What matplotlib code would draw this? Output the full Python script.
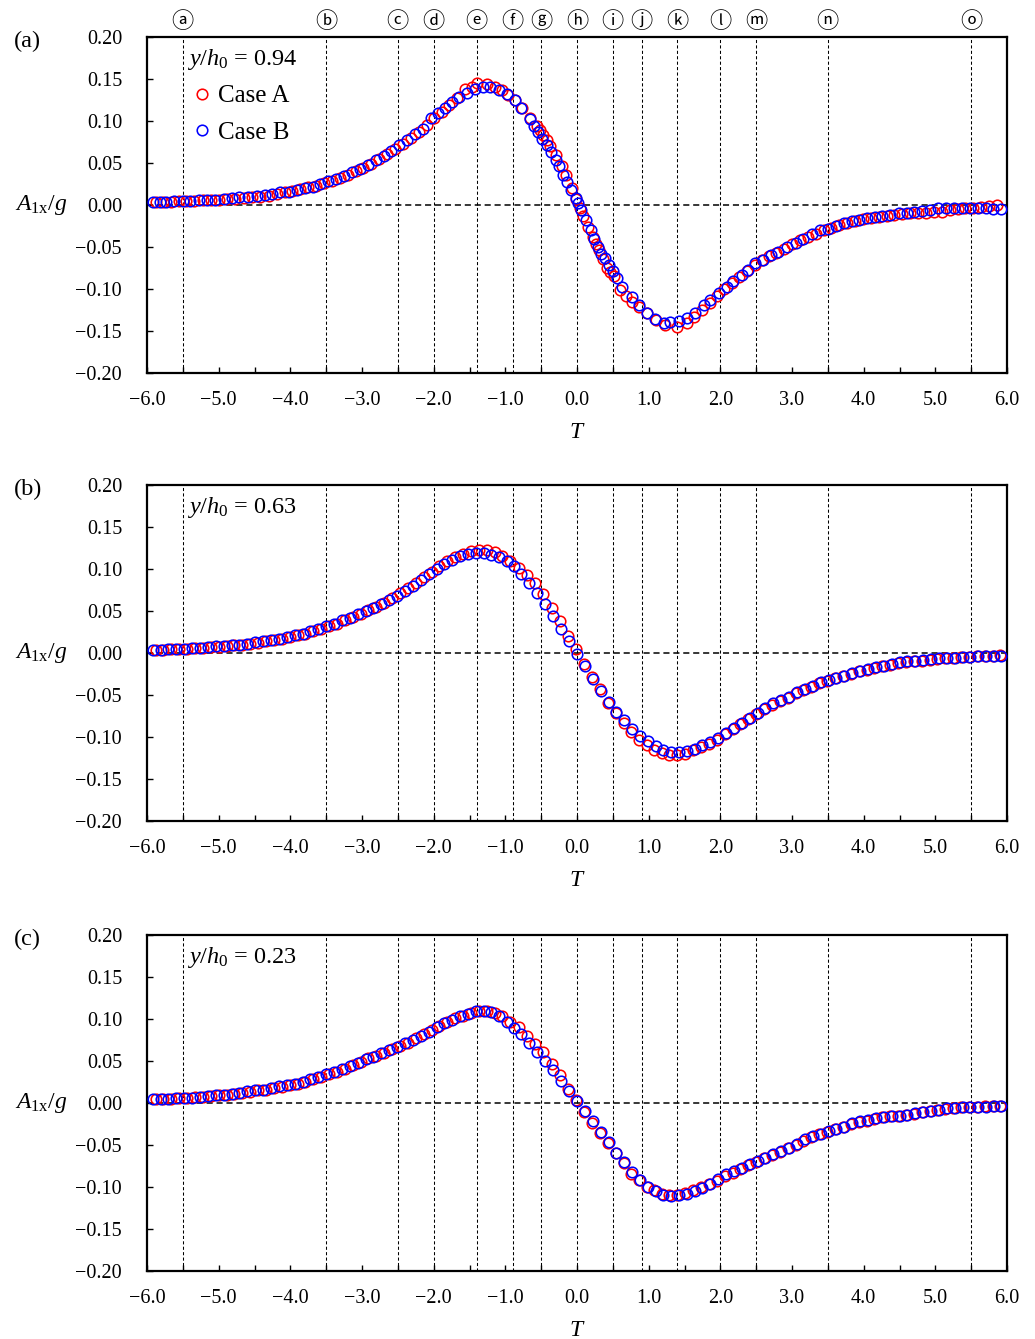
import matplotlib
matplotlib.use('agg')
import matplotlib.pyplot as plt
import matplotlib.transforms as mtransforms
from matplotlib.ticker import MultipleLocator, FuncFormatter

plt.rcParams['font.family'] = 'Liberation Serif'
plt.rcParams['mathtext.fontset'] = 'custom'
plt.rcParams['mathtext.rm'] = 'Liberation Serif'
plt.rcParams['mathtext.it'] = 'Liberation Serif:italic'

# ---- panel (a): y/h0 = 0.94 ----
t_a_caseB = [-5.92, -5.82, -5.73, -5.62, -5.50, -5.40, -5.28, -5.16, -5.05, -4.93,
             -4.82, -4.71, -4.59, -4.47, -4.36, -4.25, -4.14, -4.02, -3.91, -3.80,
             -3.69, -3.58, -3.47, -3.36, -3.25, -3.14, -3.03, -2.92, -2.81, -2.70,
             -2.59, -2.48, -2.37, -2.26, -2.15, -2.04, -1.94, -1.84, -1.74, -1.64,
             -1.54, -1.42, -1.31, -1.21, -1.09, -0.98, -0.87, -0.78, -0.66, -0.60,
             -0.54, -0.49, -0.42, -0.36, -0.30, -0.25, -0.19, -0.14, -0.08, -0.02,
             0.01, 0.05, 0.12, 0.19, 0.24, 0.29, 0.34, 0.39, 0.44, 0.50,
             0.56, 0.63, 0.77, 0.86, 0.98, 1.09, 1.21, 1.30, 1.42, 1.53,
             1.65, 1.77, 1.86, 1.98, 2.09, 2.18, 2.30, 2.39, 2.49, 2.60,
             2.70, 2.80, 2.93, 3.05, 3.16, 3.28, 3.39, 3.50, 3.61, 3.72,
             3.84, 3.94, 4.05, 4.16, 4.26, 4.37, 4.49, 4.60, 4.70, 4.81,
             4.93, 5.04, 5.15, 5.26, 5.37, 5.48, 5.59, 5.70, 5.81, 5.91]
a_a_caseB = [0.004, 0.004, 0.004, 0.005, 0.005, 0.005, 0.006, 0.006, 0.006, 0.007,
             0.008, 0.009, 0.010, 0.011, 0.012, 0.013, 0.015, 0.016, 0.018, 0.020,
             0.022, 0.025, 0.028, 0.031, 0.035, 0.039, 0.043, 0.048, 0.053, 0.058,
             0.064, 0.071, 0.077, 0.084, 0.091, 0.103, 0.110, 0.116, 0.123, 0.128,
             0.133, 0.138, 0.141, 0.141, 0.137, 0.132, 0.125, 0.115, 0.102, 0.094,
             0.087, 0.079, 0.071, 0.063, 0.054, 0.046, 0.036, 0.027, 0.018, 0.008,
             0.002, -0.006, -0.018, -0.030, -0.041, -0.050, -0.058, -0.063, -0.071, -0.079,
             -0.087, -0.098, -0.110, -0.119, -0.129, -0.136, -0.140, -0.139, -0.138, -0.135,
             -0.128, -0.119, -0.113, -0.105, -0.098, -0.091, -0.083, -0.077, -0.069, -0.065,
             -0.060, -0.056, -0.050, -0.045, -0.040, -0.035, -0.030, -0.028, -0.025, -0.022,
             -0.019, -0.018, -0.016, -0.014, -0.013, -0.012, -0.010, -0.009, -0.008, -0.007,
             -0.006, -0.004, -0.003, -0.003, -0.004, -0.004, -0.003, -0.004, -0.005, -0.005]

t_a_caseA = [-5.88, -5.77, -5.67, -5.56, -5.45, -5.34, -5.22, -5.11, -4.99, -4.88,
             -4.77, -4.65, -4.53, -4.42, -4.30, -4.19, -4.08, -3.97, -3.86, -3.75,
             -3.64, -3.53, -3.42, -3.31, -3.20, -3.09, -2.98, -2.87, -2.76, -2.65,
             -2.54, -2.43, -2.32, -2.21, -2.10, -1.99, -1.89, -1.79, -1.68, -1.56,
             -1.47, -1.39, -1.26, -1.15, -1.05, -0.96, -0.86, -0.77, -0.65, -0.56,
             -0.51, -0.47, -0.42, -0.37, -0.30, -0.21, -0.16, -0.07, -0.01, 0.04,
             0.09, 0.16, 0.22, 0.26, 0.30, 0.36, 0.42, 0.46, 0.51, 0.60,
             0.69, 0.77, 0.87, 0.98, 1.10, 1.23, 1.40, 1.53, 1.63, 1.75,
             1.85, 1.95, 2.05, 2.16, 2.26, 2.37, 2.48, 2.58, 2.68, 2.78,
             2.89, 3.00, 3.11, 3.22, 3.33, 3.44, 3.55, 3.66, 3.77, 3.88,
             3.99, 4.10, 4.21, 4.32, 4.43, 4.54, 4.65, 4.76, 4.87, 4.98,
             5.09, 5.20, 5.31, 5.42, 5.53, 5.64, 5.75, 5.86]
a_a_caseA = [0.004, 0.004, 0.004, 0.005, 0.005, 0.005, 0.006, 0.006, 0.006, 0.007,
             0.007, 0.008, 0.009, 0.010, 0.011, 0.013, 0.015, 0.017, 0.019, 0.021,
             0.023, 0.026, 0.029, 0.032, 0.036, 0.040, 0.044, 0.049, 0.055, 0.061,
             0.067, 0.073, 0.080, 0.087, 0.095, 0.103, 0.111, 0.119, 0.127, 0.138,
             0.141, 0.145, 0.144, 0.141, 0.137, 0.131, 0.125, 0.116, 0.103, 0.094,
             0.089, 0.083, 0.077, 0.070, 0.059, 0.047, 0.036, 0.020, 0.007, -0.003,
             -0.013, -0.026, -0.038, -0.046, -0.054, -0.064, -0.075, -0.080, -0.085, -0.101,
             -0.108, -0.115, -0.122, -0.129, -0.137, -0.143, -0.145, -0.140, -0.133, -0.125,
             -0.117, -0.108, -0.100, -0.093, -0.086, -0.079, -0.072, -0.066, -0.061, -0.057,
             -0.052, -0.047, -0.042, -0.038, -0.034, -0.030, -0.027, -0.024, -0.021, -0.019,
             -0.017, -0.016, -0.014, -0.013, -0.012, -0.011, -0.010, -0.009, -0.009, -0.008,
             -0.008, -0.006, -0.005, -0.004, -0.004, -0.002, -0.001, 0.000]

# ---- panels (b) and (c) share the same sampling times ----
t_bc_caseB = [-5.92, -5.81, -5.70, -5.59, -5.48, -5.37, -5.26, -5.15, -5.04, -4.93,
              -4.82, -4.71, -4.60, -4.49, -4.38, -4.27, -4.16, -4.05, -3.94, -3.83,
              -3.72, -3.61, -3.50, -3.39, -3.28, -3.17, -3.06, -2.95, -2.84, -2.73,
              -2.62, -2.51, -2.40, -2.29, -2.18, -2.07, -1.96, -1.85, -1.74, -1.63,
              -1.52, -1.41, -1.30, -1.20, -1.09, -0.98, -0.88, -0.78, -0.67, -0.56,
              -0.44, -0.33, -0.22, -0.11, 0.00, 0.11, 0.22, 0.33, 0.44, 0.55,
              0.66, 0.77, 0.88, 0.99, 1.10, 1.20, 1.31, 1.42, 1.53, 1.64,
              1.75, 1.86, 1.97, 2.08, 2.19, 2.30, 2.41, 2.52, 2.63, 2.74,
              2.85, 2.96, 3.07, 3.18, 3.29, 3.40, 3.51, 3.62, 3.73, 3.84,
              3.95, 4.06, 4.17, 4.28, 4.39, 4.50, 4.61, 4.72, 4.83, 4.94,
              5.05, 5.16, 5.27, 5.38, 5.49, 5.60, 5.71, 5.82, 5.92]
t_bc_caseA = [-5.88, -5.77, -5.66, -5.55, -5.44, -5.33, -5.22, -5.11, -5.00, -4.89,
              -4.78, -4.67, -4.56, -4.45, -4.34, -4.23, -4.12, -4.01, -3.90, -3.79,
              -3.68, -3.57, -3.46, -3.35, -3.24, -3.13, -3.02, -2.91, -2.80, -2.69,
              -2.58, -2.47, -2.36, -2.25, -2.14, -2.03, -1.92, -1.81, -1.70, -1.59,
              -1.48, -1.37, -1.26, -1.15, -1.04, -0.93, -0.81, -0.70, -0.58, -0.47,
              -0.35, -0.24, -0.12, -0.01, 0.10, 0.21, 0.32, 0.43, 0.54, 0.65,
              0.76, 0.87, 0.98, 1.08, 1.19, 1.29, 1.40, 1.51, 1.62, 1.73,
              1.84, 1.95, 2.06, 2.17, 2.28, 2.39, 2.50, 2.61, 2.72, 2.83,
              2.94, 3.05, 3.16, 3.27, 3.38, 3.49, 3.60, 3.71, 3.82, 3.93,
              4.04, 4.15, 4.26, 4.37, 4.48, 4.59, 4.70, 4.81, 4.92, 5.03,
              5.14, 5.25, 5.36, 5.47, 5.58, 5.69, 5.80, 5.90]

# panel (b): y/h0 = 0.63
a_b_caseB = [0.004, 0.004, 0.005, 0.005, 0.005, 0.006, 0.006, 0.007, 0.008, 0.008,
             0.009, 0.010, 0.011, 0.013, 0.014, 0.016, 0.017, 0.019, 0.021, 0.023,
             0.026, 0.029, 0.032, 0.035, 0.039, 0.042, 0.046, 0.050, 0.054, 0.058,
             0.063, 0.068, 0.074, 0.080, 0.087, 0.094, 0.100, 0.106, 0.111, 0.115,
             0.118, 0.119, 0.119, 0.117, 0.114, 0.109, 0.103, 0.094, 0.083, 0.071,
             0.058, 0.044, 0.029, 0.014, -0.001, -0.016, -0.031, -0.045, -0.058, -0.070,
             -0.080, -0.090, -0.099, -0.105, -0.111, -0.115, -0.118, -0.118, -0.117, -0.114,
             -0.110, -0.106, -0.101, -0.095, -0.089, -0.083, -0.077, -0.072, -0.066, -0.060,
             -0.056, -0.052, -0.046, -0.043, -0.039, -0.035, -0.032, -0.030, -0.027, -0.024,
             -0.022, -0.019, -0.017, -0.015, -0.013, -0.011, -0.010, -0.009, -0.008, -0.007,
             -0.006, -0.006, -0.006, -0.005, -0.005, -0.004, -0.003, -0.003, -0.003]
a_b_caseA = [0.004, 0.004, 0.005, 0.005, 0.005, 0.006, 0.006, 0.007, 0.007, 0.008,
             0.009, 0.010, 0.011, 0.012, 0.014, 0.015, 0.017, 0.019, 0.021, 0.023,
             0.026, 0.028, 0.032, 0.035, 0.039, 0.043, 0.047, 0.051, 0.055, 0.060,
             0.065, 0.071, 0.077, 0.083, 0.090, 0.097, 0.103, 0.109, 0.114, 0.118,
             0.121, 0.123, 0.123, 0.120, 0.115, 0.109, 0.101, 0.093, 0.083, 0.070,
             0.054, 0.038, 0.020, 0.005, -0.013, -0.029, -0.043, -0.060, -0.071, -0.083,
             -0.094, -0.103, -0.110, -0.115, -0.119, -0.121, -0.122, -0.120, -0.116, -0.112,
             -0.108, -0.103, -0.097, -0.091, -0.085, -0.079, -0.073, -0.067, -0.062, -0.057,
             -0.053, -0.048, -0.044, -0.040, -0.036, -0.033, -0.030, -0.027, -0.025, -0.022,
             -0.020, -0.018, -0.016, -0.014, -0.012, -0.011, -0.010, -0.009, -0.008, -0.007,
             -0.006, -0.006, -0.005, -0.005, -0.004, -0.004, -0.003, -0.002]

# panel (c): y/h0 = 0.23
a_c_caseB = [0.005, 0.005, 0.005, 0.006, 0.006, 0.006, 0.007, 0.008, 0.009, 0.010,
             0.011, 0.012, 0.014, 0.015, 0.016, 0.018, 0.020, 0.021, 0.023, 0.025,
             0.028, 0.031, 0.034, 0.037, 0.040, 0.044, 0.048, 0.052, 0.055, 0.059,
             0.063, 0.067, 0.071, 0.075, 0.080, 0.085, 0.090, 0.095, 0.099, 0.103,
             0.106, 0.109, 0.110, 0.108, 0.103, 0.097, 0.089, 0.082, 0.072, 0.061,
             0.050, 0.039, 0.026, 0.014, 0.002, -0.010, -0.022, -0.035, -0.047, -0.059,
             -0.070, -0.082, -0.092, -0.100, -0.105, -0.109, -0.111, -0.110, -0.108, -0.105,
             -0.101, -0.097, -0.091, -0.085, -0.081, -0.077, -0.073, -0.069, -0.065, -0.061,
             -0.057, -0.053, -0.049, -0.043, -0.039, -0.037, -0.033, -0.031, -0.028, -0.024,
             -0.022, -0.020, -0.018, -0.017, -0.016, -0.015, -0.014, -0.012, -0.011, -0.009,
             -0.008, -0.006, -0.006, -0.005, -0.005, -0.005, -0.005, -0.004, -0.004]
a_c_caseA = [0.005, 0.005, 0.005, 0.006, 0.006, 0.007, 0.007, 0.008, 0.009, 0.010,
             0.011, 0.012, 0.013, 0.015, 0.016, 0.018, 0.019, 0.021, 0.023, 0.025,
             0.028, 0.031, 0.034, 0.037, 0.041, 0.045, 0.049, 0.053, 0.056, 0.060,
             0.064, 0.068, 0.072, 0.077, 0.082, 0.087, 0.092, 0.097, 0.101, 0.104,
             0.107, 0.109, 0.109, 0.107, 0.103, 0.097, 0.090, 0.080, 0.070, 0.061,
             0.046, 0.033, 0.017, 0.004, -0.011, -0.024, -0.036, -0.048, -0.059, -0.071,
             -0.084, -0.092, -0.100, -0.104, -0.108, -0.109, -0.109, -0.107, -0.104, -0.100,
             -0.097, -0.093, -0.087, -0.083, -0.078, -0.074, -0.070, -0.066, -0.062, -0.058,
             -0.054, -0.050, -0.045, -0.041, -0.037, -0.034, -0.031, -0.028, -0.025, -0.023,
             -0.021, -0.019, -0.017, -0.016, -0.015, -0.014, -0.013, -0.011, -0.010, -0.008,
             -0.007, -0.006, -0.005, -0.005, -0.005, -0.004, -0.004, -0.004]

# reference instants marked with circled letters above panel (a)
instant_T = [-5.5, -3.5, -2.5, -2.0, -1.4, -0.9, -0.5, 0.0, 0.5, 0.9, 1.4, 2.0, 2.5, 3.5, 5.5]
instant_labels = [chr(0x24D0 + i) for i in range(len(instant_T))]

panels = [
    ("(a)", "0.94", t_a_caseA, a_a_caseA, t_a_caseB, a_a_caseB),
    ("(b)", "0.63", t_bc_caseA, a_b_caseA, t_bc_caseB, a_b_caseB),
    ("(c)", "0.23", t_bc_caseA, a_c_caseA, t_bc_caseB, a_c_caseB),
]

W, H = 1035, 1339
fig = plt.figure(figsize=(W / 100, H / 100), dpi=100)

ax_left, ax_right = 147, 1007
ax_tops = [37, 485, 935]
ax_h = 336

def fmt_tick(v, nd):
    s = f"{abs(v):.{nd}f}"
    return ("\u2212" + s) if v < -1e-9 else s

for k, (tag, yh, tA, aA, tB, aB) in enumerate(panels):
    top = ax_tops[k]
    ax = fig.add_axes([ax_left / W, 1 - (top + ax_h) / H, (ax_right - ax_left) / W, ax_h / H])

    for t0 in instant_T:
        ax.axvline(t0, color='black', lw=0.75, ls=(0, (3, 2.2)), zorder=1)
    ax.axhline(0.0, color='black', lw=1.1, ls=(0, (4, 2.5)), zorder=1)

    hA, = ax.plot(tA, aA, 'o', ms=7.6, mfc='none', mec='#ff0000', mew=1.15, zorder=3, label='Case A')
    hB, = ax.plot(tB, aB, 'o', ms=7.6, mfc='none', mec='#0000ff', mew=1.15, zorder=4, label='Case B')

    ax.set_xlim(-6.0, 6.0)
    ax.set_ylim(-0.20, 0.20)
    ax.xaxis.set_major_locator(MultipleLocator(1.0))
    ax.xaxis.set_minor_locator(MultipleLocator(0.5))
    ax.yaxis.set_major_locator(MultipleLocator(0.05))
    ax.xaxis.set_major_formatter(FuncFormatter(lambda v, p: fmt_tick(v, 1)))
    ax.yaxis.set_major_formatter(FuncFormatter(lambda v, p: fmt_tick(v, 2)))
    ax.tick_params(axis='both', which='both', direction='in', top=False, right=False,
                   length=4, width=1.0, labelsize=14.5)
    ax.tick_params(axis='x', which='both', pad=13)
    ax.tick_params(axis='y', which='both', pad=18)
    for sp in ax.spines.values():
        sp.set_linewidth(1.6)

    # axis titles
    ax.text(0.5, -59 / ax_h, "$T$", transform=ax.transAxes, ha='center', va='center', fontsize=17)
    tr = mtransforms.blended_transform_factory(ax.transAxes, ax.transData)
    ax.text(-(147 - 68) / 860, 0.0, r"$A_{\mathrm{1x}}/g$", transform=tr,
            ha='right', va='center', fontsize=17)
    fig.text(14 / W, 1 - (top + 4) / H, tag, ha='left', va='center', fontsize=17.5)

    ax.text(40 / 860, 1 - 23 / ax_h, r"$y/h_0$" + " = " + yh, transform=ax.transAxes,
            ha='left', va='center', fontsize=17.5)

    if k == 0:
        ax.legend([hA, hB], ['Case A', 'Case B'], loc='upper left',
                  bbox_to_anchor=(46 / 860, 1 - 48 / ax_h), frameon=False,
                  handlelength=0.7, handletextpad=0.3, labelspacing=0.55,
                  borderpad=0, borderaxespad=0, fontsize=18)
        trt = mtransforms.blended_transform_factory(ax.transData, ax.transAxes)
        for t0, lab in zip(instant_T, instant_labels):
            ax.text(t0, 1 + 16 / ax_h, lab, transform=trt, ha='center', va='center',
                    fontsize=16, family=['Noto Sans CJK JP', 'DejaVu Sans'])

fig.savefig('out.png', dpi=100)
